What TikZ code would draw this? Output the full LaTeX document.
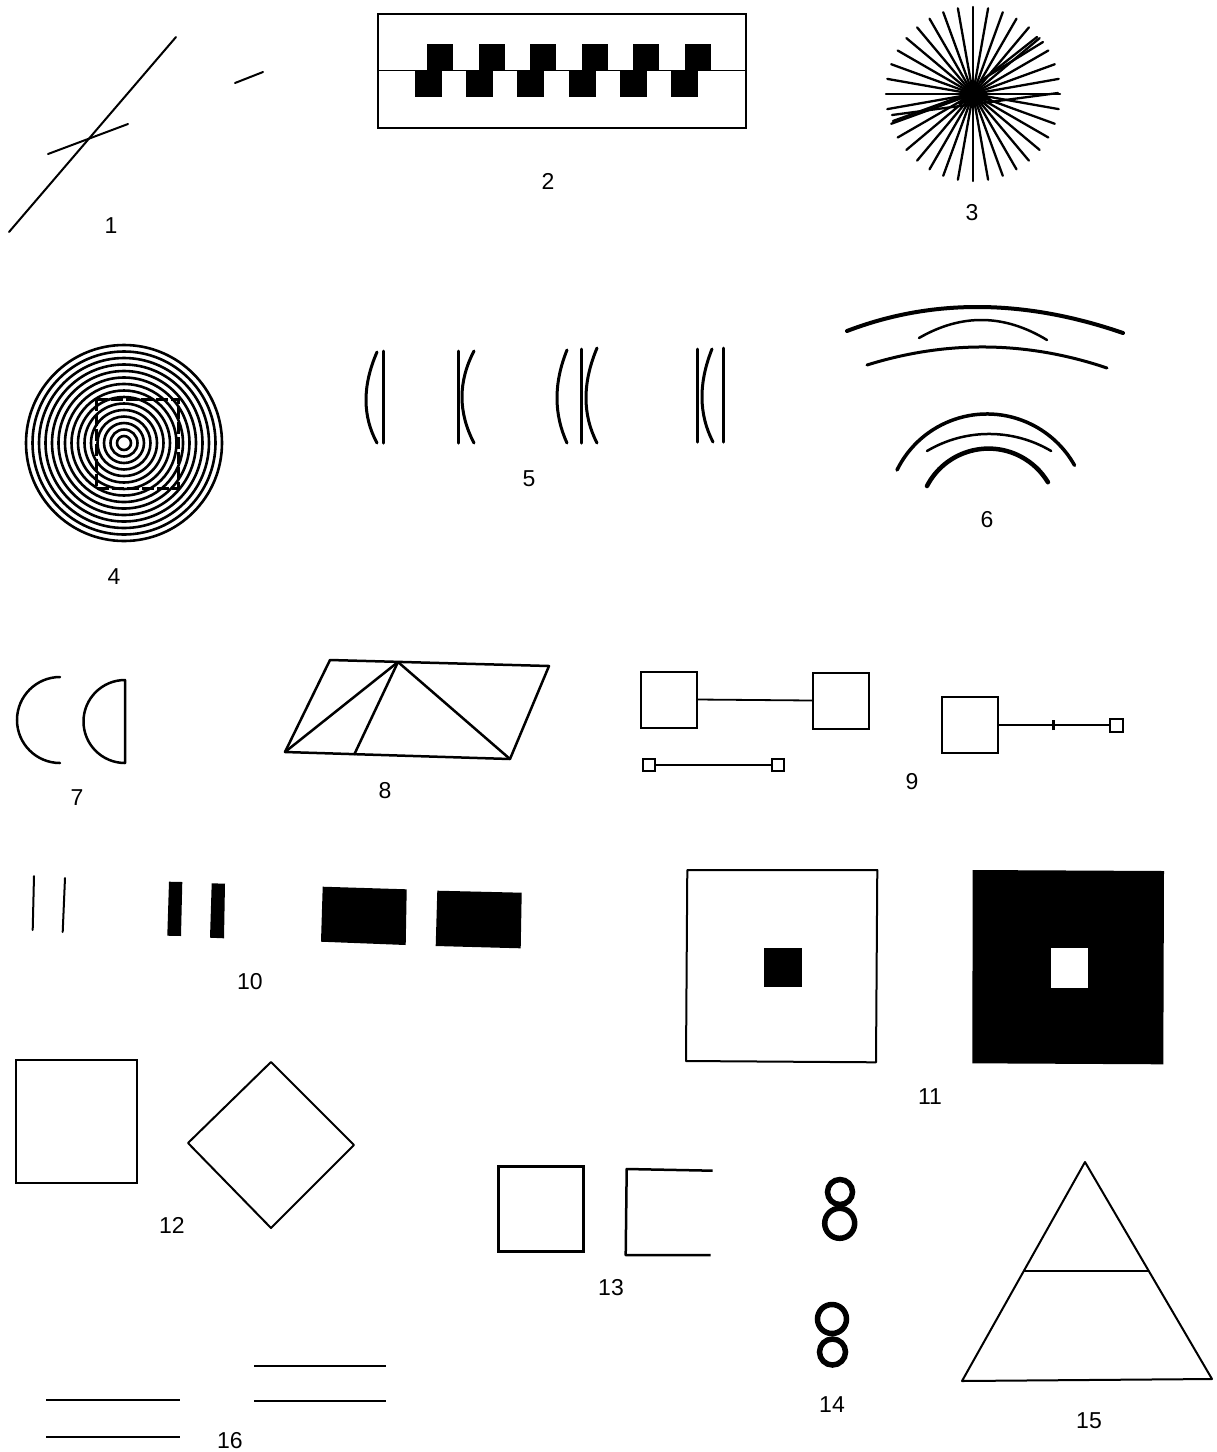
\documentclass[tikz,border=0pt]{standalone}
\usepackage{fontspec}
\usetikzlibrary{calc}
\newfontfamily\labfont{Liberation Sans}
\newcommand\qarc[4][]{\draw[#1] (#2) .. controls ($1.33333*(#3)-0.33333*(#4)$) and ($1.33333*(#3)-0.33333*(#2)$) .. (#4);}
\begin{document}
\begin{tikzpicture}[x=1pt,y=-1pt,
 ln/.style={line width=2pt,line cap=round,line join=round},
 thk/.style={line width=3pt,line cap=round,line join=round},
 lab/.style={font=\labfont\fontsize{23}{23}\selectfont,inner sep=0pt},
 box/.style={draw,line width=2pt,inner sep=0pt,minimum size=#1},
]
\fill[white] (0,0) rectangle (1217,1452);
\useasboundingbox (0,0) rectangle (1217,1452);

% ---------- 1
\draw[ln] (9,232) -- (176,37);
\draw[ln] (48,154) -- (128,124);
\draw[ln] (235,83) -- (263,72);
\node[lab] (l1) at (111,226) {1};

% ---------- 2
\draw[line width=1.6pt] (378,14) rectangle (746,128);
\draw[line width=1.6pt] (378,70.5) -- (746,70.5);
\foreach \k in {0,...,5}{
  \fill ({427+51.6*\k},44) rectangle ++(26,27);
  \fill ({415+51.2*\k},70) rectangle ++(27,27);
}
\node[lab] (l2) at (548,181) {2};

% ---------- 3
\foreach \a in {0,10,...,350}
  \draw[line width=2.3pt,line cap=round] (973,94) -- ++(\a:87);
\draw[line width=2.3pt,line cap=round] (892,115) -- (1058,93);
\draw[line width=2.3pt,line cap=round] (893,121) -- (962,96);
\draw[line width=2.3pt,line cap=round] (980,82) -- (1037,37);
\draw[line width=2.3pt,line cap=round] (988,76) -- (1043,42);
\fill (958,104) -- (974,82) -- (992,100) -- cycle;
\fill (975,95) ellipse[x radius=10,y radius=8];
\node[lab] (l3) at (972,213) {3};

% ---------- 4
\foreach \k in {0,...,14}
  \draw[line width=2.6pt] (124,443) circle[radius={7+6.5*\k}];
\draw[line width=3pt,dash pattern=on 12pt off 3pt] (96,399) rectangle (178,488);
\node[lab] (l4) at (114,577) {4};

% ---------- 5
\qarc[thk]{377,352}{366,400}{377,443}
\draw[thk] (383,351) -- (383,443);
\draw[thk] (458,351) -- (458,443);
\qarc[thk]{474,351}{462,397}{474,443}
\qarc[thk]{567,350}{557,398}{567,443}
\draw[thk] (581,349) -- (581,443);
\qarc[thk]{597,348}{586,398}{597,443}
\draw[thk] (697,349) -- (697,442);
\qarc[thk]{712,349}{702,398}{713,442}
\draw[thk] (723,348) -- (723,442);
\node[lab] (l5) at (529,479) {5};

% ---------- 6
\qarc[line width=4pt,line cap=round]{847,331}{980,307}{1123,333}
\qarc[line width=2.5pt,line cap=round]{919,338}{983,320}{1047,340}
\qarc[line width=3pt,line cap=round]{867,365}{987,347}{1107,368}
\draw[line width=3.5pt,line cap=round] (897,470) arc[start angle=-153.8,end angle=-29.2,radius=100.3];
\draw[line width=2.5pt,line cap=round] (927,451) arc[start angle=-120.7,end angle=-59.3,radius=121.6];
\draw[line width=4.5pt,line cap=round] (927,486) arc[start angle=-152.6,end angle=-31,radius=69.3];
\node[lab] (l6) at (987,520) {6};

% ---------- 7
\draw[line width=2.5pt,line cap=round] (60,677) arc[start angle=-90,end angle=-270,radius=43];
\draw[line width=2.5pt,line join=round] (125,680) arc[start angle=-90,end angle=-270,radius=41.5] -- cycle;
\node[lab] (l7) at (77,798) {7};

% ---------- 8
\draw[line width=2.5pt,line join=round] (330,660) -- (549,666) -- (510,759) -- (285,752) -- cycle;
\draw[line width=2.5pt] (398,662) -- (285,752);
\draw[line width=2.5pt] (398,662) -- (354,755);
\draw[line width=2.5pt] (398,662) -- (510,759);
\node[lab] (l8) at (385,791) {8};

% ---------- 9
\node[box=56pt] (s1) at (668.5,699.5) {};
\node[box=56pt] (s2) at (841,700.5) {};
\draw[line width=1.8pt] (s1.east) -- (s2.west);
\node[box=12pt] (s3) at (648.5,765) {};
\node[box=12pt] (s4) at (777.5,765) {};
\draw[line width=1.8pt] (s3.east) -- (s4.west);
\node[box=56pt] (s5) at (970,725) {};
\node[box=13pt] (s6) at (1116.5,725) {};
\draw[line width=1.8pt] (s5.east) -- (s6.west);
\coordinate (tk) at (1053,725);
\draw[line width=3pt] ([yshift=-5pt]tk) -- ([yshift=5pt]tk);
\node[lab] (l9) at (912,782) {9};

% ---------- 10
\draw[ln] (34,876) -- (32.7,930);
\draw[ln] (65,878) -- (62.7,932);
\fill (169,881.7) -- (182.3,882) -- (181,936) -- (167.3,935.7) -- cycle;
\fill (211.7,883.3) -- (225,883.7) -- (224,938.3) -- (210,937.7) -- cycle;
\fill (322.7,886.7) -- (406.7,889.3) -- (405.7,945) -- (321,941.7) -- cycle;
\fill (437.3,890.7) -- (521.7,892.7) -- (520.7,948.3) -- (435.7,946) -- cycle;
\node[lab] (l10) at (250,982) {10};

% ---------- 11
\draw[line width=2pt,line join=round] (687.3,870) -- (877.3,870) -- (876,1062.3) -- (686,1061) -- cycle;
\fill (764.3,947.7) rectangle (802.3,986.7);
\fill (972.7,870) -- (1164,871) -- (1163.3,1064.3) -- (972.3,1063.3) -- cycle;
\fill[white] (1051,948.3) rectangle (1088.3,988.3);
\node[lab] (l11) at (930,1097) {11};

% ---------- 12
\draw[line width=2pt] (16,1060) rectangle (137,1183);
\draw[line width=2pt,line join=round] (271,1062) -- (354,1145) -- (271,1228) -- (188,1143) -- cycle;
\node[lab] (l12) at (172,1225) {12};

% ---------- 13
\draw[line width=2.5pt] (498.3,1166.7) rectangle (583.3,1251.7);
\draw[line width=2.5pt,line join=round] (712.7,1170.7) -- (626.7,1169) -- (625.7,1255) -- (710.7,1255);
\node[lab] (l13) at (611,1288) {13};

% ---------- 14
\draw[line width=5.5pt] (840,1192) circle[radius=12.5];
\draw[line width=5.5pt] (839.7,1223.3) circle[radius=15];
\draw[line width=5.5pt] (832,1319) circle[radius=14.5];
\draw[line width=5.5pt] (832.5,1352) circle[radius=13];
\node[lab] (l14) at (832,1405) {14};

% ---------- 15
\draw[line width=2pt,line join=round] (1085,1162) -- (1212,1379) -- (962,1381) -- cycle;
\draw[line width=2pt] (1023.8,1271) -- (1148.8,1271);
\node[lab] (l15) at (1089,1421) {15};

% ---------- 16
\draw[line width=1.8pt] (46,1400) -- (180,1400);
\draw[line width=1.8pt] (46,1437) -- (180,1437);
\draw[line width=1.8pt] (254,1366) -- (386,1366);
\draw[line width=1.8pt] (254,1401) -- (386,1401);
\node[lab] (l16) at (230,1441) {16};
\end{tikzpicture}
\end{document}
